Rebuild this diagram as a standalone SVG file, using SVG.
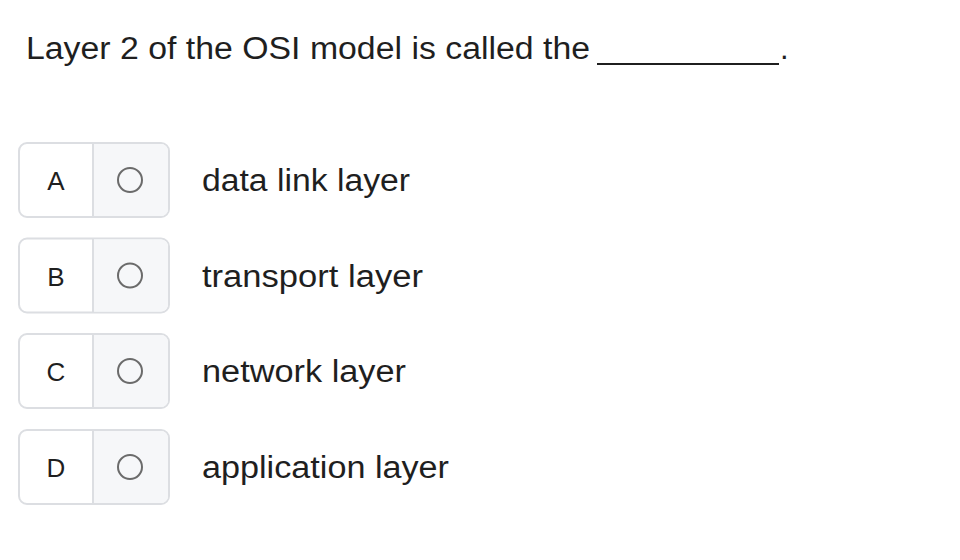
<svg xmlns="http://www.w3.org/2000/svg" width="960" height="560" viewBox="0 0 960 560">
<style>
text{font-family:"Liberation Sans",Arial,sans-serif;fill:#1f1f1f}
.q{font-size:31px}
.l{font-size:26px;text-anchor:middle}
.o{font-size:31px}
.box{fill:#fff;stroke:#dcdee2;stroke-width:2}
.rb{fill:#f6f7f9}
.div{stroke:#dcdee2;stroke-width:2}
.c{fill:none;stroke:#6b6b6b;stroke-width:2}
</style>
<rect width="960" height="560" fill="#fff"/>
<g id="question"><text class="q" x="26" y="59" textLength="564" lengthAdjust="spacingAndGlyphs">Layer 2 of the OSI model is called the</text>
<line x1="597" y1="64" x2="779" y2="64" stroke="#1f1f1f" stroke-width="2"/>
<text class="q" x="780" y="59">.</text></g>
<g id="optA">
<rect class="box" x="19" y="143" width="150" height="74" rx="8"/>
<path class="rb" d="M93 144H161a7 7 0 0 1 7 7V209a7 7 0 0 1-7 7H93Z"/>
<line class="div" x1="93" y1="143" x2="93" y2="217"/>
<text class="l" x="56" y="190">A</text><circle class="c" cx="130" cy="180" r="12"/>
<text class="o" x="202" y="191" textLength="208" lengthAdjust="spacingAndGlyphs">data link layer</text></g>
<g id="optB" transform="translate(0,95.5)">
<rect class="box" x="19" y="143" width="150" height="74" rx="8"/>
<path class="rb" d="M93 144H161a7 7 0 0 1 7 7V209a7 7 0 0 1-7 7H93Z"/>
<line class="div" x1="93" y1="143" x2="93" y2="217"/>
<text class="l" x="56" y="190">B</text><circle class="c" cx="130" cy="180" r="12"/>
<text class="o" x="202" y="191" textLength="221" lengthAdjust="spacingAndGlyphs">transport layer</text></g>
<g id="optC" transform="translate(0,191)">
<rect class="box" x="19" y="143" width="150" height="74" rx="8"/>
<path class="rb" d="M93 144H161a7 7 0 0 1 7 7V209a7 7 0 0 1-7 7H93Z"/>
<line class="div" x1="93" y1="143" x2="93" y2="217"/>
<text class="l" x="56" y="190">C</text><circle class="c" cx="130" cy="180" r="12"/>
<text class="o" x="202" y="191" textLength="204" lengthAdjust="spacingAndGlyphs">network layer</text></g>
<g id="optD" transform="translate(0,287)">
<rect class="box" x="19" y="143" width="150" height="74" rx="8"/>
<path class="rb" d="M93 144H161a7 7 0 0 1 7 7V209a7 7 0 0 1-7 7H93Z"/>
<line class="div" x1="93" y1="143" x2="93" y2="217"/>
<text class="l" x="56" y="190">D</text><circle class="c" cx="130" cy="180" r="12"/>
<text class="o" x="202" y="191" textLength="247" lengthAdjust="spacingAndGlyphs">application layer</text></g>
<g id="connectors"/>
</svg>
